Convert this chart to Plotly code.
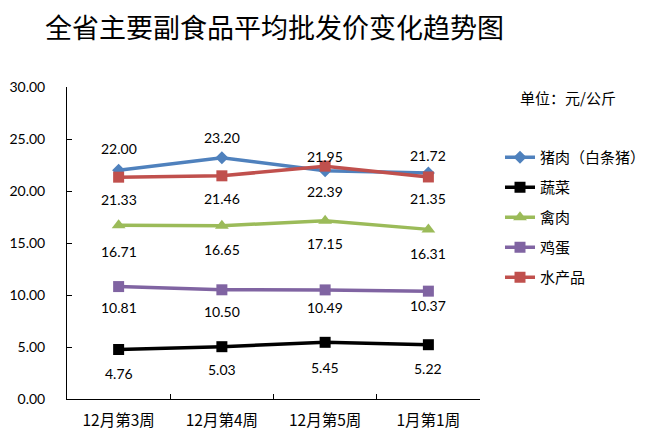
import plotly.graph_objects as go

categories = ["12月第3周", "12月第4周", "12月第5周", "1月第1周"]
series_names = ["猪肉（白条猪）", "蔬菜", "禽肉", "鸡蛋", "水产品"]
pork = [22.00, 23.20, 21.95, 21.72]
vegetables = [4.76, 5.03, 5.45, 5.22]
poultry = [16.71, 16.65, 17.15, 16.31]
eggs = [10.81, 10.50, 10.49, 10.37]
aquatic = [21.33, 21.46, 22.39, 21.35]
y_ticks = [0, 5, 10, 15, 20, 25, 30]

colors = ["#4F81BD", "#000000", "#9BBB59", "#8064A2", "#C0504D"]
symbols = ["diamond", "square", "triangle-up", "square", "square"]
msizes = [10, 11, 12, 11, 11]
# pixel offsets of the value labels (style only)
label_shift = [
    [22, 20, 14, 18],
    [-24, -23, -25, -24],
    [-26, -24, -23, -24],
    [-21, -22, -18, -14],
    [-22, -23, -25, -22],
]
values = [pork, vegetables, poultry, eggs, aquatic]

NUM_FONT = "Lato, 'Noto Sans CJK SC', sans-serif"
CJK_FONT = "'Noto Sans CJK SC', sans-serif"

OFF = 8  # default page body margin
W, H = 670 - OFF, 446 - OFF
L, T = 67 - OFF, 87 - OFF
R = W - (480 - OFF)
B = H - (399 - OFF)

fig = go.Figure()
annotations = []
for name, vals, c, s, ms, shifts in zip(series_names, values, colors, symbols, msizes, label_shift):
    fig.add_trace(go.Scatter(
        x=categories, y=vals, name=name, mode="lines+markers",
        line=dict(color=c, width=3.5),
        marker=dict(symbol=s, size=ms, color=c, line=dict(width=0)),
        legendgroup=name, cliponaxis=False,
    ))
    for i, (cat, v) in enumerate(zip(categories, vals)):
        annotations.append(dict(
            x=i, y=v, xref="x", yref="y", text=f"{v:.2f}", showarrow=False,
            yshift=shifts[i], xanchor="center", yanchor="middle",
            font=dict(family=NUM_FONT, size=14, color="#000000")))

pw, ph = W - L - R, H - T - B

annotations.append(dict(text="单位：元/公斤",
                        x=(518 - 67) / pw, y=(399 - 97) / ph,
                        xref="paper", yref="paper", showarrow=False,
                        xanchor="left", yanchor="middle",
                        font=dict(family=CJK_FONT, size=15, color="#000000")))

fig.update_layout(
    width=W, height=H,
    margin=dict(l=L, r=R, t=T, b=B, autoexpand=False),
    paper_bgcolor="white", plot_bgcolor="white",
    title=dict(text="全省主要副食品平均批发价变化趋势图",
               font=dict(family=CJK_FONT, size=27, color="#000000"),
               x=(45 - OFF) / W, xanchor="left", xref="container",
               y=1 - (29 - OFF) / H, yanchor="middle", yref="container"),
    showlegend=True,
    legend=dict(x=(500 - OFF) / W, xref="container", y=1 - (141 - OFF) / H, yref="container",
                xanchor="left", yanchor="top",
                font=dict(family=CJK_FONT, size=15, color="#000000"),
                tracegroupgap=7.5, bgcolor="rgba(0,0,0,0)"),
    xaxis=dict(type="category", range=[-0.5, 3.5], tickson="boundaries",
               showline=True, linecolor="#000000", linewidth=1,
               ticks="inside", ticklen=5, tickcolor="#000000", tickwidth=1,
               showgrid=False, zeroline=False, ticklabelstandoff=7,
               tickfont=dict(family=CJK_FONT, size=15.5, color="#000000")),
    yaxis=dict(range=[0, 30], tickvals=y_ticks, tickformat=".2f",
               showline=True, linecolor="#000000", linewidth=1,
               ticks="inside", ticklen=5, tickcolor="#000000", tickwidth=1,
               showgrid=False, zeroline=False, ticklabelstandoff=18,
               tickfont=dict(family=NUM_FONT, size=14, color="#000000")),
    annotations=annotations,
)

fig.write_html("out.html")
